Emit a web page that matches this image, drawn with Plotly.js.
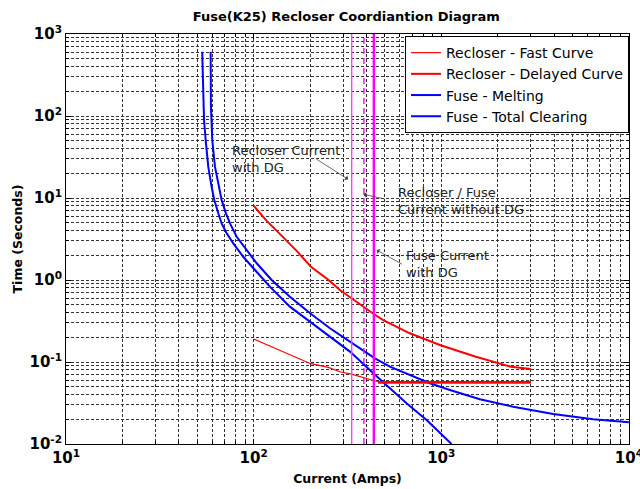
<!DOCTYPE html>
<html>
<head>
<meta charset="utf-8">
<script src="https://cdn.plot.ly/plotly-3.0.1.min.js"></script>
<style>html,body{margin:0;padding:0;background:#fff;}#chart{width:640px;height:489px;}</style>
</head>
<body>
<div id="chart"></div>
<script>
// ---- Data ----
// Recloser - Fast Curve (current in A, time in s)
const fastI = [100, 120, 137, 170, 200, 250, 288, 332, 368, 420, 460, 3000];
const fastT = [0.191, 0.160, 0.140, 0.114, 0.096, 0.086, 0.076, 0.071, 0.066, 0.061, 0.0575, 0.0565];
// flat (instantaneous) part drawn heavier
const instI = [460, 3000];
const instT = [0.0565, 0.0565];
// Recloser - Delayed Curve
const delayedI = [100, 117, 137, 170, 202, 251, 288, 332, 437, 490, 680, 983, 1529, 2349, 3000];
const delayedT = [8.05, 5.3, 3.7, 2.25, 1.45, 1.0, 0.755, 0.598, 0.385, 0.325, 0.224, 0.161, 0.116, 0.0876, 0.0822];
// Fuse - Melting
const meltI = [53.2, 54.4, 55.5, 57.3, 59.7, 61.7, 64.8, 67.5, 71.8, 77.9, 88.0, 99.5, 122, 156, 200, 255, 326, 434, 532, 653, 835, 983, 1134];
const meltT = [608, 89.4, 51.0, 24.1, 13.7, 9.45, 6.51, 4.91, 3.71, 2.80, 1.92, 1.39, 0.829, 0.473, 0.310, 0.204, 0.134, 0.0728, 0.0478, 0.0314, 0.0196, 0.0135, 0.0100];
// Fuse - Total Clearing
const clearI = [59.0, 59.2, 60.2, 62.2, 64.8, 67.5, 71.2, 74.8, 81.2, 91.8, 103.8, 124.7, 156, 200, 255, 326, 443, 532, 680, 869, 1111, 1606, 2416, 3947, 6448, 8761, 10000];
const clearT = [608, 130, 51.0, 24.1, 15.1, 9.45, 6.51, 4.91, 3.37, 2.32, 1.60, 1.0, 0.625, 0.393, 0.258, 0.177, 0.111, 0.0876, 0.0694, 0.055, 0.0456, 0.0351, 0.0285, 0.0232, 0.0200, 0.0187, 0.0184];
// Vertical current markers (A)
const recloserCurrentDG = 333;
const currentWithoutDG = 387;
const fuseCurrentDG = 437;
// Axis ticks
const xDecades = [10, 100, 1000, 10000];
const xDecadeLabels = ['10<sup>1</sup>', '10<sup>2</sup>', '10<sup>3</sup>', '10<sup>4</sup>'];
const yDecades = [0.01, 0.1, 1, 10, 100, 1000];
const yDecadeLabels = ['10<sup>-2</sup>', '10<sup>-1</sup>', '10<sup>0</sup>', '10<sup>1</sup>', '10<sup>2</sup>', '10<sup>3</sup>'];
// Annotation texts
const labelRecloser = 'Recloser Current<br>with DG';
const labelWithout = 'Recloser / Fuse<br>Current without DG';
const labelFuse = 'Fuse Current<br>with DG';

function minorTicks(decades) {
  const out = [];
  for (let i = 0; i < decades.length - 1; i++) {
    for (let m = 2; m <= 9; m++) out.push(decades[i] * m);
  }
  return out;
}
const xMinor = minorTicks(xDecades);
const yMinor = minorTicks(yDecades);

const yFull = [yDecades[0], yDecades[yDecades.length - 1]];

const traces = [
  {x: fastI, y: fastT, mode: 'lines', name: 'Recloser - Fast Curve', line: {color: '#ff0000', width: 1.2}},
  {x: delayedI, y: delayedT, mode: 'lines', name: 'Recloser - Delayed Curve', line: {color: '#ff0000', width: 2}},
  {x: meltI, y: meltT, mode: 'lines', name: 'Fuse - Melting', line: {color: '#0000ff', width: 2}},
  {x: clearI, y: clearT, mode: 'lines', name: 'Fuse - Total Clearing', line: {color: '#0000ff', width: 2}},
  {x: instI, y: instT, mode: 'lines', showlegend: false, line: {color: '#ff0000', width: 2.6}},
  {x: [recloserCurrentDG, recloserCurrentDG], y: yFull, mode: 'lines', showlegend: false, line: {color: '#ff40ff', width: 1.4}},
  {x: [currentWithoutDG, currentWithoutDG], y: yFull, mode: 'lines', showlegend: false, line: {color: '#ff00ff', width: 1.4, dash: '6px,4px'}},
  {x: [fuseCurrentDG, fuseCurrentDG], y: yFull, mode: 'lines', showlegend: false, line: {color: '#ff00ff', width: 2.4}}
];

const gridStyle = {gridcolor: '#333', griddash: '3px,2px', gridwidth: 1};
const fontFam = '"DejaVu Sans", Verdana, sans-serif';

const annFont = {family: fontFam, size: 13, color: '#222'};
const arrowStyle = {showarrow: true, arrowhead: 1, arrowsize: 1.2, arrowwidth: 0.8, arrowcolor: '#444', text: ''};

const layout = {
  width: 640, height: 489,
  margin: {l: 66, r: 11, t: 34, b: 45},
  paper_bgcolor: '#fff', plot_bgcolor: '#fff',
  font: {family: fontFam, color: '#000'},
  title: {text: '<b>Fuse(K25) Recloser Coordiantion Diagram</b>', font: {size: 13, family: fontFam},
          x: 0.541, xanchor: 'center', y: 0.967, yanchor: 'middle'},
  showlegend: true,
  legend: {x: 1, xanchor: 'right', y: 0.995, yanchor: 'top', bgcolor: '#fff', bordercolor: '#000', borderwidth: 1,
           font: {size: 14, family: fontFam}, tracegroupgap: 0},
  xaxis: Object.assign({
    type: 'log', range: [1, 4.0004], tickmode: 'array', tickvals: xDecades, ticktext: xDecadeLabels,
    ticks: 'inside', ticklen: 5, tickcolor: '#000', mirror: 'allticks', showline: true, linecolor: '#000', linewidth: 1,
    showgrid: true, zeroline: false, ticklabeloverflow: 'allow',
    tickfont: {size: 15, family: fontFam, weight: 'bold'},
    title: {text: '<b>Current (Amps)</b>', font: {size: 12.5, family: fontFam}, standoff: 8},
    minor: Object.assign({tickmode: 'array', tickvals: xMinor, ticks: 'inside', ticklen: 3, tickcolor: '#000', showgrid: true}, gridStyle)
  }, gridStyle),
  yaxis: Object.assign({
    type: 'log', range: [-2, 3], tickmode: 'array', tickvals: yDecades, ticktext: yDecadeLabels,
    ticks: 'inside', ticklen: 5, tickcolor: '#000', mirror: 'allticks', showline: true, linecolor: '#000', linewidth: 1,
    showgrid: true, zeroline: false,
    tickfont: {size: 15, family: fontFam, weight: 'bold'},
    title: {text: '<b>Time (Seconds)</b>', font: {size: 12.5, family: fontFam}, standoff: 4},
    minor: Object.assign({tickmode: 'array', tickvals: yMinor, ticks: 'inside', ticklen: 3, tickcolor: '#000', showgrid: true}, gridStyle)
  }, gridStyle),
  annotations: [
    Object.assign({x: Math.log10(319), y: Math.log10(16.9), ax: -33, ay: -21}, arrowStyle),
    Object.assign({x: Math.log10(384), y: Math.log10(11.1), ax: 23, ay: 5}, arrowStyle),
    Object.assign({x: Math.log10(452), y: Math.log10(2.32), ax: 27, ay: 15}, arrowStyle),
    {x: Math.log10(74.8), y: Math.log10(50), text: labelRecloser, showarrow: false, xanchor: 'left', yanchor: 'top', align: 'left', font: annFont},
    {x: Math.log10(573), y: Math.log10(15.3), text: labelWithout, showarrow: false, xanchor: 'left', yanchor: 'top', align: 'left', font: annFont},
    {x: Math.log10(632), y: Math.log10(2.6), text: labelFuse, showarrow: false, xanchor: 'left', yanchor: 'top', align: 'left', font: annFont}
  ]
};

Plotly.newPlot('chart', traces, layout, {displayModeBar: false, staticPlot: true});
</script>
</body>
</html>
